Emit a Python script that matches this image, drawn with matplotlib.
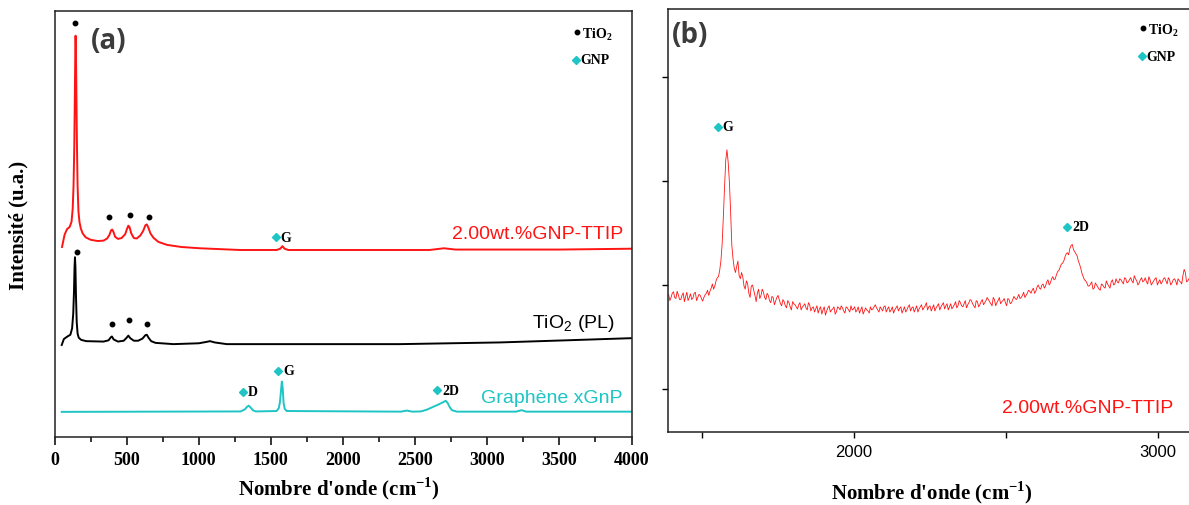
import numpy as np
import matplotlib
matplotlib.use('Agg')
import matplotlib.pyplot as plt
from matplotlib.ticker import MultipleLocator, NullLocator

plt.rcParams['mathtext.fontset'] = 'custom'
plt.rcParams['mathtext.rm'] = 'Liberation Sans'
plt.rcParams['mathtext.bf'] = 'Liberation Serif:bold'

RED = '#ff1414'
CYAN = '#1fc4c4'
SERIF = 'Liberation Serif'
SANS = 'Liberation Sans'

# ---- panel (a): Raman spectra, wavenumber (cm-1) / intensity (a.u., stacked)
ttip_wn = [52, 70, 87, 105, 118, 126, 132, 137, 141, 144, 146, 148, 151, 155, 160, 166,
           173, 182, 195, 215, 250, 300, 340, 365, 380, 392, 400, 408, 420, 440, 465, 490,
           502, 512, 520, 532, 550, 570, 595, 615, 630, 640, 650, 665, 685, 720, 780, 880,
           1009, 1286, 1540, 1565, 1580, 1595, 1620, 2600, 2700, 2780, 3500, 4000]
ttip_int = [44.6, 47.5, 48.8, 49.3, 50.5, 53.5, 59.0, 68.0, 80.0, 90.0, 94.2, 92.0, 83.0,
            70.0, 59.0, 53.0, 50.5, 49.0, 47.8, 46.9, 46.3, 46.0, 46.1, 46.6, 47.4, 48.5,
            48.7, 48.2, 47.0, 46.5, 46.7, 47.6, 48.8, 49.6, 49.3, 47.8, 46.7, 46.6, 47.3,
            48.4, 49.7, 49.9, 49.2, 47.8, 46.8, 45.8, 45.1, 44.6, 44.3, 43.9, 43.9, 44.2,
            44.8, 44.2, 43.9, 43.9, 44.3, 44.0, 44.0, 44.2]

tio2_wn = [50, 65, 90, 110, 122, 130, 135, 139, 142, 145, 149, 154, 160, 168, 185, 220,
           340, 375, 390, 398, 410, 440, 480, 500, 512, 525, 550, 580, 610, 630, 640, 652,
           670, 700, 824, 1000, 1050, 1078, 1110, 1194, 2395, 3089, 3551, 4000]
tio2_int = [21.6, 23.0, 23.6, 24.0, 25.5, 29.0, 34.0, 40.0, 42.2, 40.0, 33.0, 27.0, 24.3,
            23.3, 22.8, 22.5, 22.4, 22.7, 23.4, 23.6, 22.9, 22.4, 22.6, 23.3, 23.8, 23.2,
            22.6, 22.6, 23.1, 23.9, 24.0, 23.3, 22.5, 22.1, 21.8, 22.0, 22.3, 22.5, 22.2,
            21.8, 21.8, 22.2, 22.7, 23.2]

gnp_wn = [50, 1290, 1320, 1335, 1347, 1360, 1375, 1395, 1540, 1555, 1563, 1570, 1576, 1582,
          1588, 1596, 1610, 2400, 2442, 2480, 2540, 2580, 2620, 2660, 2690, 2712, 2725,
          2740, 2755, 2790, 3200, 3239, 3270, 4000]
gnp_int = [5.9, 6.0, 6.5, 7.1, 7.35, 6.9, 6.3, 6.0, 6.1, 6.8, 8.2, 10.8, 13.0, 11.5, 8.0,
           6.6, 6.1, 5.95, 6.2, 5.95, 6.0, 6.4, 7.0, 7.6, 8.1, 8.5, 8.0, 7.0, 6.3, 5.95,
           5.95, 6.3, 5.95, 5.95]

# peak markers
tio2_marks_wn = [142, 381, 523, 655, 154, 397, 514, 639]
tio2_marks_int = [97.2, 51.6, 52.2, 51.7, 43.4, 26.5, 27.5, 26.5]
gnp_marks_wn = [1533, 1309, 1552, 2654]
gnp_marks_int = [46.9, 10.6, 15.6, 11.0]
gnp_marks_lbl = ['G', 'D', 'G', '2D']

# ---- panel (b): zoom of 2.00wt.%GNP-TTIP, read every 4 cm-1 from 1390
zoom_wn_even = np.arange(1390, 3103, 8)
zoom_int_even = [
    1910, 1880, 1935, 1870, 1905, 1860, 1925, 1890, 1850, 1915, 1875, 1930, 1880, 1900,
    1845, 1905, 1950, 1940, 2010, 1990, 2070, 2140, 2390, 2940, 3300, 2990, 2380, 2160,
    2180, 2090, 2120, 1990, 2040, 1920, 1990, 1950, 1840, 1960, 1900, 1930, 1860, 1900,
    1830, 1880, 1845, 1900, 1820, 1860, 1800, 1850, 1790, 1840, 1810, 1770, 1830, 1790,
    1820, 1760, 1810, 1780, 1740, 1800, 1770, 1720, 1790, 1750, 1800, 1760, 1790, 1740,
    1780, 1800, 1750, 1790, 1760, 1800, 1770, 1740, 1790, 1760, 1720, 1780, 1750, 1790,
    1770, 1810, 1760, 1790, 1750, 1800, 1770, 1740, 1790, 1760, 1800, 1775, 1730, 1790,
    1760, 1810, 1780, 1740, 1800, 1770, 1810, 1780, 1830, 1790, 1750, 1810, 1780, 1820,
    1790, 1830, 1800, 1760, 1820, 1790, 1840, 1800, 1830, 1790, 1850, 1810, 1860, 1820,
    1780, 1840, 1810, 1860, 1830, 1880, 1840, 1800, 1860, 1830, 1880, 1840, 1870, 1800,
    1860, 1830, 1890, 1860, 1910, 1880, 1930, 1900, 1950, 1920, 1970, 1940, 2000, 1960,
    2010, 1990, 2050, 2020, 2080, 2060, 2130, 2170, 2210, 2270, 2310, 2350, 2390, 2320,
    2280, 2200, 2110, 2050, 2020, 1990, 2030, 1970, 2000, 1960, 2010, 1980, 2040, 1990,
    2030, 2000, 2060, 2020, 2050, 2010, 2060, 2030, 2070, 2020, 2060, 2000, 2050, 2030,
    2070, 2010, 2050, 2020, 2060, 2000, 2050, 2030, 2070, 2010, 2050, 2020, 2060, 2000,
    2040, 2010, 2150, 2030, 2060]
zoom_wn_odd = np.arange(1394, 3100, 8)
zoom_int_odd = [
    1850, 1920, 1880, 1940, 1860, 1900, 1840, 1930, 1880, 1860, 1920, 1850, 1910, 1870,
    1880, 1920, 1900, 1970, 1960, 2040, 2080, 2230, 2650, 3200, 3180, 2700, 2250, 2120,
    2230, 2060, 2080, 1960, 2010, 1880, 2000, 1900, 1920, 1870, 1960, 1880, 1920, 1850,
    1890, 1810, 1880, 1860, 1800, 1840, 1780, 1830, 1760, 1820, 1790, 1810, 1760, 1800,
    1780, 1830, 1750, 1790, 1770, 1730, 1790, 1760, 1710, 1780, 1740, 1770, 1720, 1790,
    1760, 1780, 1730, 1780, 1740, 1760, 1790, 1760, 1730, 1790, 1750, 1760, 1730, 1760,
    1790, 1780, 1740, 1770, 1790, 1740, 1790, 1760, 1730, 1780, 1750, 1790, 1760, 1740,
    1790, 1750, 1790, 1770, 1740, 1790, 1760, 1800, 1760, 1800, 1780, 1750, 1800, 1760,
    1810, 1770, 1820, 1790, 1770, 1810, 1780, 1850, 1800, 1820, 1780, 1830, 1850, 1800,
    1850, 1790, 1840, 1810, 1850, 1860, 1820, 1880, 1800, 1850, 1820, 1850, 1830, 1870,
    1820, 1860, 1870, 1880, 1870, 1900, 1880, 1920, 1940, 1950, 1920, 1980, 1970, 2000,
    1970, 2030, 2000, 2060, 2050, 2100, 2140, 2200, 2230, 2300, 2290, 2380, 2340, 2300,
    2230, 2160, 2080, 2040, 1990, 2010, 1960, 2020, 1980, 1950, 2000, 1970, 2010, 1970,
    2050, 2010, 2030, 2060, 2030, 2070, 2020, 2050, 2040, 2090, 2040, 2020, 2070, 2040,
    2030, 2080, 2000, 2040, 2070, 2030, 2010, 2060, 2040, 2070, 2000, 2050, 2040, 2060,
    2030, 2090, 2120, 2040]
zoom_wn = np.concatenate([zoom_wn_even, zoom_wn_odd])
zoom_int = np.concatenate([zoom_int_even, zoom_int_odd])
order = np.argsort(zoom_wn)
zoom_wn, zoom_int = zoom_wn[order], zoom_int[order]

zoom_marks_wn = [1551, 2701]
zoom_marks_int = [3522, 2561]
zoom_marks_lbl = ['G', '2D']


def peak_label(ax, x, y, text, size=10):
    ax.plot(x, y, 'D', color=CYAN, ms=3.6, mec=CYAN)
    ax.annotate(text, (x, y), xytext=(3.5, 0), textcoords='offset points',
                va='center', ha='left', fontsize=size, fontweight='bold', family=SERIF)


def legend_block(ax, x_dot, y_dot, y_dia):
    ax.plot(x_dot, y_dot, 'o', color='black', ms=3.2)
    ax.annotate(r'TiO$_\mathbf{2}$', (x_dot, y_dot), xytext=(3.5, -1), textcoords='offset points',
                va='center', ha='left', fontsize=10, fontweight='bold', family=SERIF)
    peak_label(ax, x_dot - 12 * (ax.get_xlim()[1] - ax.get_xlim()[0]) / 4000, y_dia, 'GNP')


fig = plt.figure(figsize=(11.89, 5.06), dpi=100)
W, H = 1189, 506
axa = fig.add_axes([54.5 / W, 1 - 438 / H, 577 / W, 426 / H])
axb = fig.add_axes([668 / W, 1 - 433 / H, (W - 668) / W, 423 / H])

# panel (a)
axa.plot(ttip_wn, ttip_int, color=RED, lw=1.4)
axa.plot(tio2_wn, tio2_int, color='black', lw=1.4)
axa.plot(gnp_wn, gnp_int, color=CYAN, lw=1.4)
axa.plot(tio2_marks_wn, tio2_marks_int, 'o', color='black', ms=3.2, ls='none')
for x, y, t in zip(gnp_marks_wn, gnp_marks_int, gnp_marks_lbl):
    peak_label(axa, x, y, t)

axa.set_xlim(0, 4000)
axa.set_ylim(0, 100)
legend_block(axa, 3624, 95.0, 88.6)

axa.text(3941, 46.7, '2.00wt.%GNP-TTIP', color=RED, ha='right', va='baseline',
         fontsize=14, family=SANS)
axa.text(3886, 25.8, 'TiO$_2$ (PL)', color='black', ha='right', va='baseline',
         fontsize=14, family=SANS)
axa.text(3941, 8.3, 'Graphène xGnP', color=CYAN, ha='right', va='baseline',
         fontsize=14, family=SANS)
axa.text(0.063, 0.965, '(a)', transform=axa.transAxes, ha='left', va='top',
         fontsize=20, fontweight='bold', family='Open Sans', color='#3c3c3c')

axa.xaxis.set_major_locator(MultipleLocator(500))
axa.xaxis.set_minor_locator(MultipleLocator(250))
axa.yaxis.set_major_locator(NullLocator())
axa.tick_params(axis='x', which='major', direction='out', length=6, width=1.1, pad=4)
axa.tick_params(axis='x', which='minor', direction='out', length=3.5, width=1.1)
for lab in axa.get_xticklabels():
    lab.set_fontfamily(SERIF)
    lab.set_fontweight('bold')
    lab.set_fontsize(13)

# panel (b)
axb.plot(zoom_wn, zoom_int, color=RED, lw=0.6)
for x, y, t in zip(zoom_marks_wn, zoom_marks_int, zoom_marks_lbl):
    peak_label(axb, x, y, t)
axb.set_xlim(1388, 3102)
axb.set_ylim(586.6, 4653.7)
legend_block(axb, 2952, 4468, 4199)
axb.text(3051, 776, '2.00wt.%GNP-TTIP', color=RED, ha='right', va='baseline',
         fontsize=14, family=SANS)
axb.text(0.008, 0.975, '(b)', transform=axb.transAxes, ha='left', va='top',
         fontsize=20, fontweight='bold', family='Open Sans', color='#3c3c3c')

axb.xaxis.set_major_locator(MultipleLocator(1000))
axb.xaxis.set_minor_locator(MultipleLocator(500))
axb.yaxis.set_major_locator(MultipleLocator(1000))
axb.tick_params(axis='x', which='both', direction='out', length=4, width=1.0, pad=5)
axb.tick_params(axis='y', which='both', direction='out', length=4, width=1.0, labelleft=False)
axb.spines['right'].set_visible(False)
for lab in axb.get_xticklabels():
    lab.set_fontfamily(SANS)
    lab.set_fontsize(12)

for ax in (axa, axb):
    for sp in ax.spines.values():
        sp.set_linewidth(1.1)
        sp.set_color('#222222')

fig.text(18 / W, 1 - 225 / H, 'Intensité (u.a.)', rotation=90, ha='center', va='center',
         fontsize=15, fontweight='bold', family=SERIF)
fig.text(339 / W, 1 - 489 / H, "Nombre d'onde (cm$^{\\mathbf{-1}}$)", ha='center', va='center',
         fontsize=15, fontweight='bold', family=SERIF)
fig.text(932 / W, 1 - 493 / H, "Nombre d'onde (cm$^{\\mathbf{-1}}$)", ha='center', va='center',
         fontsize=15, fontweight='bold', family=SERIF)

fig.savefig('out.png', dpi=100)
